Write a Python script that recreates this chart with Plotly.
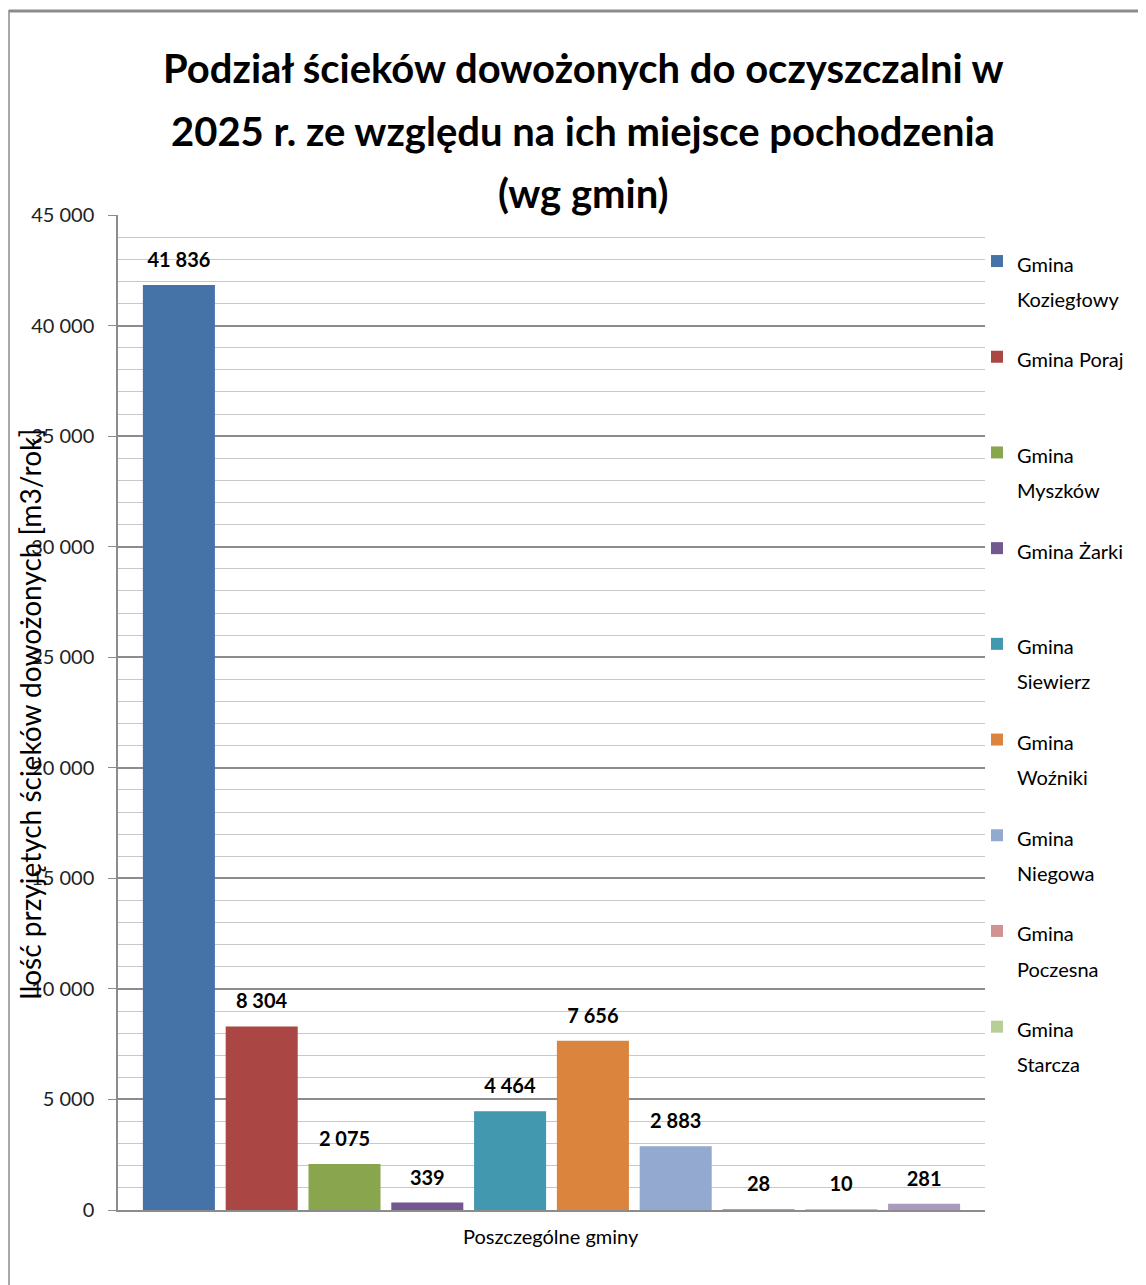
import plotly.graph_objects as go

# ---- data ----
gminy = ["Gmina Koziegłowy", "Gmina Poraj", "Gmina Myszków", "Gmina Żarki",
         "Gmina Siewierz", "Gmina Woźniki", "Gmina Niegowa", "Gmina Poczesna",
         "Gmina Starcza", "Gmina (10)"]
legend_first = ["Gmina", "Gmina Poraj", "Gmina", "Gmina Żarki", "Gmina", "Gmina",
                "Gmina", "Gmina", "Gmina", ""]
legend_second = ["Koziegłowy", " ", "Myszków", " ", "Siewierz", "Woźniki",
                 "Niegowa", "Poczesna", "Starcza", ""]
show_in_legend = [True] * 9 + [False]
ilosc = [41836, 8304, 2075, 339, 4464, 7656, 2883, 28, 10, 281]
kolory = ["#4572A7", "#AA4643", "#89A54E", "#71588F", "#4198AF",
          "#DB843D", "#93A9CF", "#D19392", "#B9CD96", "#A99BBD"]
title_lines = ["Podział ścieków dowożonych do oczyszczalni w",
               "2025 r. ze względu na ich miejsce pochodzenia",
               "(wg gmin)"]
y_title = "Ilość przyjętych ścieków dowożonych [m3/rok]"
x_title = "Poszczególne gminy"
y_ticks = [0, 5000, 10000, 15000, 20000, 25000, 30000, 35000, 40000, 45000]

FONT = "Lato, 'Open Sans', sans-serif"
OFF = 8  # page body margin
PAGE_W, PAGE_H = 1146, 1285
W, H = PAGE_W - OFF, PAGE_H - OFF
# plot area in page pixels
PX0, PX1, PY0, PY1 = 118, 985, 215, 1210
L, T = PX0 - OFF, PY0 - OFF
R, B = W - (PX1 - OFF), H - (PY1 - OFF)
pw, ph = PX1 - PX0, PY1 - PY0

def px_x(x):
    return (x - PX0) / pw

def px_y(y):
    return (PY1 - y) / ph

def span(t):
    return f"<span style='font-size:20px'>{t}</span>"

fig = go.Figure()
for i in range(len(gminy)):
    if legend_first[i]:
        name = span(legend_first[i]) + "<br>" + span(legend_second[i])
    else:
        name = gminy[i]
    fig.add_trace(go.Bar(
        x=[""], y=[ilosc[i]], name=name,
        marker=dict(color=kolory[i], line=dict(width=0)),
        showlegend=show_in_legend[i], legendgroup=f"g{i}",
        texttemplate="<span style='font-size:20px'><b>%{y:,}</b></span><br> ",
        textposition="outside",
        textfont=dict(family=FONT, size=10, color="#000000"),
        cliponaxis=False, hoverinfo="skip"
    ))

annotations = []
for k, line in enumerate(title_lines):
    annotations.append(dict(
        text=f"<b>{line}</b>", xref="paper", yref="paper",
        x=px_x(583), y=px_y(68 + 62.5 * k), xanchor="center", yanchor="middle",
        showarrow=False, font=dict(family=FONT, size=40, color="#000000")))
annotations.append(dict(
    text=y_title, xref="paper", yref="paper", x=px_x(30), y=px_y(715),
    xanchor="center", yanchor="middle", textangle=-90, showarrow=False,
    font=dict(family=FONT, size=28, color="#000000")))
annotations.append(dict(
    text=x_title, xref="paper", yref="paper", x=px_x(551), y=px_y(1236),
    xanchor="center", yanchor="middle", showarrow=False,
    font=dict(family=FONT, size=20, color="#000000")))

shapes = [
    dict(type="line", xref="paper", yref="paper", x0=px_x(9), x1=px_x(1146),
         y0=px_y(11), y1=px_y(11), line=dict(color="#8c8c8c", width=3)),
    dict(type="line", xref="paper", yref="paper", x0=px_x(9), x1=px_x(9),
         y0=px_y(10), y1=px_y(1285), line=dict(color="#8c8c8c", width=1.5)),
]

fig.update_layout(
    width=W, height=H,
    margin=dict(l=L, r=R, t=T, b=B, autoexpand=False),
    paper_bgcolor="white", plot_bgcolor="white",
    separators=", ",
    barmode="group", bargap=0.045, bargroupgap=0.13,
    font=dict(family=FONT, color="#000000"),
    annotations=annotations, shapes=shapes,
    showlegend=True,
    legend=dict(x=px_x(977), y=px_y(237), xanchor="left", yanchor="top",
                traceorder="grouped", tracegroupgap=22.5, valign="top",
                font=dict(family=FONT, size=27, color="#000000"),
                bgcolor="rgba(0,0,0,0)", itemclick=False),
    xaxis=dict(showticklabels=False, showgrid=False, zeroline=False,
               showline=True, linecolor="#8c8c8c", linewidth=1.5, fixedrange=True),
    yaxis=dict(range=[0, 45000], tickvals=y_ticks, tickformat=",",
               ticks="outside", ticklen=8, tickcolor="#8c8c8c",
               ticklabelstandoff=10,
               tickfont=dict(family=FONT, size=20, color="#222222"),
               showline=True, linecolor="#8c8c8c", linewidth=1.5,
               showgrid=True, gridcolor="#8c8c8c", gridwidth=1.5,
               minor=dict(dtick=1000, showgrid=True, gridcolor="#c8c8c8", gridwidth=1),
               zeroline=False, fixedrange=True),
)

fig.write_html("out.html")
